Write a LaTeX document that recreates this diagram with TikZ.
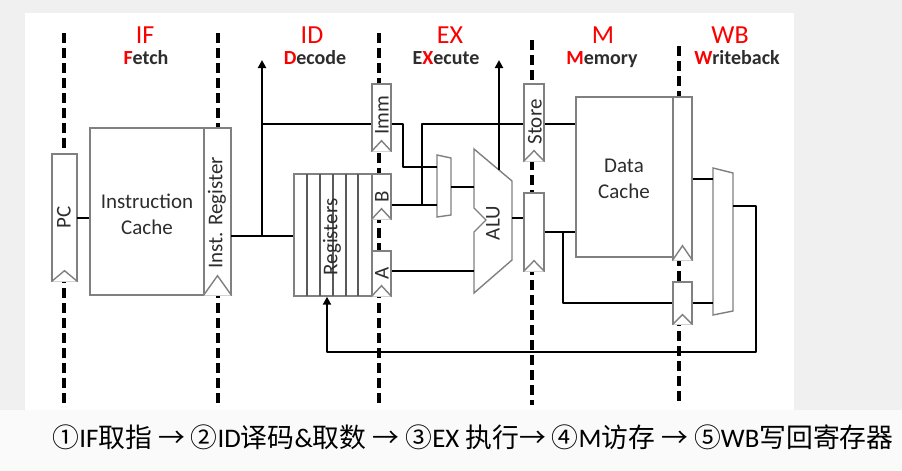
\documentclass[tikz,border=0pt]{standalone}
\usepackage{fontspec}
\setmainfont{Carlito}
\newfontfamily\cjk{Noto Sans CJK SC}
\usetikzlibrary{arrows.meta}
\definecolor{stagered}{RGB}{250,0,0}
\definecolor{txtgray}{RGB}{45,45,45}
\definecolor{bggray}{RGB}{240,240,240}
\definecolor{lowgray}{RGB}{250,250,250}
% clock mark at the foot of a pipeline register
\newcommand{\clk}[2][11]{\draw[box] (#2.south west) -- ([yshift=#1pt]#2.south) -- (#2.south east);}

\begin{document}
\begin{tikzpicture}
	[x=1pt, y=-1pt,
	 stage/.style={line width=3.5pt, dash pattern=on 10pt off 5pt},
	 box/.style={draw=gray, line width=1.4pt, fill=white, inner sep=0pt},
	 wire/.style={line width=2.7pt, line join=round},
	 arrow/.style={wire, -{Triangle[length=8pt,width=8pt]}},
	 stagename/.style={text=stagered, anchor=base, font=\fontsize{26}{26}\selectfont},
	 stageword/.style={text=txtgray, anchor=base, font=\bfseries\fontsize{20}{20}\selectfont},
	 lbl/.style={text=txtgray, font=\fontsize{21}{26}\selectfont, align=center},
	 vlbl/.style={lbl, rotate=90}]
	
	\useasboundingbox (0,0) rectangle (902,471);
	\fill[bggray] (0,0) rectangle (902,471);
	\fill[lowgray] (0,410) rectangle (902,471);
	\fill[white] (25,13) rectangle (794,410);
	
	% stage boundaries
	\draw[stage] (64,33) -- (64,405);
	\draw[stage] (218,33) -- (218,405);
	\draw[stage] (379,33) -- (379,405);
	\draw[stage] (532,40) -- (532,405);
	\draw[stage] (679,46) -- (679,405);
	
	\node[stagename] (if) at (145,43) {IF};
	\node[stagename] (id) at (312,43) {ID};
	\node[stagename] (ex) at (450,43) {EX};
	\node[stagename] (mem) at (603,43) {M};
	\node[stagename] (wb) at (730,43) {WB};
	\node[stageword] (fetch) at (146,64) {\textcolor{stagered}{F}etch};
	\node[stageword] (decode) at (315,64) {\textcolor{stagered}{D}ecode};
	\node[stageword] (execute) at (446,64) {E\textcolor{stagered}{X}ecute};
	\node[stageword] (memory) at (602,64) {\textcolor{stagered}{M}emory};
	\node[stageword] (writeback) at (737,64) {\textcolor{stagered}{W}riteback};
	
	% units and pipeline registers
	\node[box, minimum width=25, minimum height=127] (pc) at (64.5,217.5) {};
	\node[box, minimum width=114, minimum height=167] (icache) at (147,211.5) {};
	\node[box, minimum width=27, minimum height=167] (ireg) at (217.5,211.5) {};
	\node[box, minimum width=78, minimum height=122] (regs) at (333,235) {};
	\node[box, minimum width=19, minimum height=67] (imm) at (381.5,117.5) {};
	\node[box, minimum width=19, minimum height=45] (rb) at (381.5,196.5) {};
	\node[box, minimum width=19, minimum height=45] (ra) at (381.5,273.5) {};
	\node[box, minimum width=20, minimum height=77] (store) at (534,122.5) {};
	\node[box, minimum width=20, minimum height=78] (aluout) at (534,232) {};
	\node[box, minimum width=97, minimum height=160] (dcache) at (624.5,177) {};
	\node[box, minimum width=19, minimum height=163] (dreg) at (682.5,178.5) {};
	\node[box, minimum width=19, minimum height=42] (wbreg) at (682.5,303) {};
	
	\foreach \x in {307,320,333,346,358}
		\draw[gray!70!black, line width=1.2pt] (\x,174) -- (\x,296);
	
	\clk{pc} \clk[20]{ireg} \clk{imm} \clk{rb} \clk{ra}
	\clk{store} \clk{aluout} \clk[15]{dreg} \clk[10]{wbreg}
	
	% muxes and ALU
	\draw[box] (437,155) -- (451,158) -- (451,215) -- (437,217) -- cycle;
	\draw[box] (474,149) -- (512,181) -- (512,260) -- (474,293) -- (474,232)
		-- (486,220) -- (474,208) -- cycle;
	\draw[box] (713,168) -- (733,173) -- (733,311) -- (713,315) -- cycle;
	
	\coordinate (pcout) at (77,218);
	\coordinate (irout) at (231,236);
	\coordinate (fork) at (262,236);
	\coordinate (decup) at (262,60);
	\coordinate (immrow) at (262,124);
	\coordinate (immturn) at (403,124);
	\coordinate (bfork) at (422,205);
	\coordinate (strow) at (422,124);
	\coordinate (m1a) at (437,167);
	\coordinate (m1b) at (437,205);
	\coordinate (m1out) at (451,187);
	\coordinate (alub) at (474,187);
	\coordinate (alua) at (474,271);
	\coordinate (aluo) at (512,218);
	\coordinate (alutop) at (499,170);
	\coordinate (mfork) at (563,232);
	\coordinate (m2a) at (713,179);
	\coordinate (m2out) at (733,206);
	\coordinate (loop) at (756,352);
	
	\draw[wire] (pcout) -- (pcout -| icache.west);
	\draw[wire] (irout) -- (irout -| regs.west);
	\draw[arrow] (fork) -- (decup);
	\draw[wire] (immrow) -- (immrow -| imm.west);
	\draw[wire] (immrow -| imm.east) -- (immturn) |- (m1a);
	\draw[wire] (rb.east |- m1b) -- (m1b);
	\draw[wire] (bfork) -- (strow) -- (strow -| store.west);
	\draw[wire] (strow -| store.east) -- (strow -| dcache.west);
	\draw[wire] (m1out) -- (alub);
	\draw[wire] (alua -| ra.east) -- (alua);
	\draw[arrow] (alutop) -- (alutop |- decup);
	\draw[wire] (aluo) -- (aluo -| aluout.west);
	\draw[wire] (aluout.east) -- (aluout.east -| dcache.west);
	\draw[wire] (mfork) |- (wbreg.west);
	\draw[wire] (dreg.east |- m2a) -- (m2a);
	\draw[wire] (wbreg.east) -- (wbreg.east -| m2a);
	\draw[arrow] (m2out) -| (loop) -| ([xshift=-6pt]regs.south);
	
	\node[vlbl] (pclbl) at (64,217) {PC};
	\node[lbl] (iclbl) at (147,214) {Instruction\\Cache};
	\node[vlbl] (irlbl) at (217,213) {Inst. Register};
	\node[vlbl] (reglbl) at (332,237) {Registers};
	\node[vlbl] (immlbl) at (382,115) {Imm};
	\node[vlbl] (blbl) at (382,197) {B};
	\node[vlbl] (albl) at (382,273) {A};
	\node[vlbl] (alulbl) at (493,223) {ALU};
	\node[vlbl] (stlbl) at (535,122) {Store};
	\node[lbl] (dclbl) at (624,179) {Data\\Cache};
	
	\node (steps) at (473,437) {\resizebox{841pt}{!}{\fontsize{26}{26}\selectfont
		{\cjk ①}IF{\cjk 取指 → ②}ID{\cjk 译码}\&{\cjk 取数 → ③}EX {\cjk 执行→ ④}M{\cjk 访存 → ⑤}WB{\cjk 写回寄存器}}};
\end{tikzpicture}
\end{document}
